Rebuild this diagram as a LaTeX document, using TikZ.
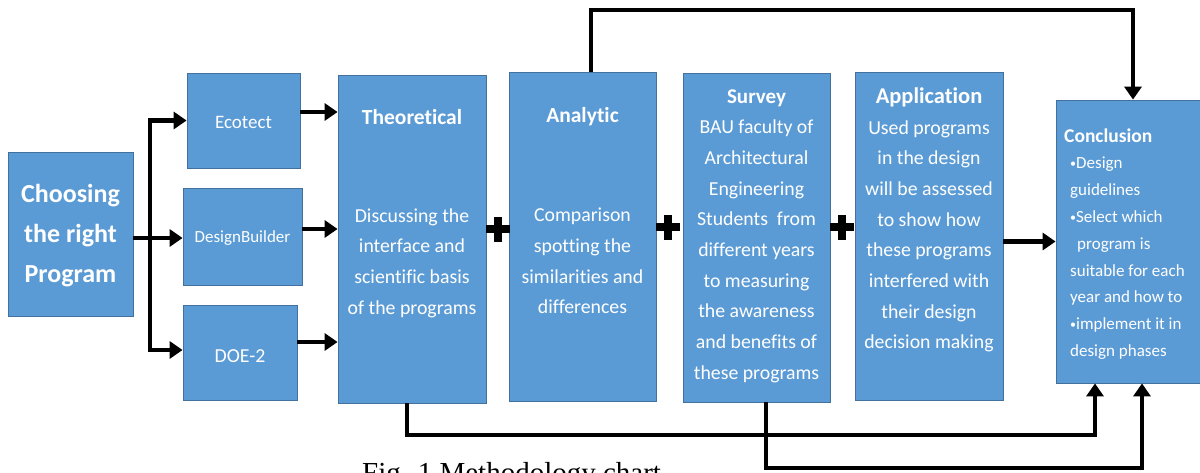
\documentclass[tikz,border=0pt]{standalone}
\usepackage{fontspec}
\setmainfont{Carlito}[Ligatures={NoCommon}]
\newfontfamily\capfont{Liberation Serif}
\usetikzlibrary{arrows.meta}
\definecolor{boxfill}{HTML}{5B9BD5}
\definecolor{boxline}{HTML}{41719C}
\newcommand{\bul}{{\fontsize{12}{12}\selectfont\raisebox{1.5pt}{•}}}
\begin{document}
\begin{tikzpicture}[x=1pt,y=-1pt,
  box/.style={draw=boxline,fill=boxfill,line width=0.8pt,inner sep=0pt},
  txt/.style={text=white,align=center,inner sep=0pt},
  body/.style={txt,font=\fontsize{19.8}{30.7}\selectfont},
  ttl/.style={txt,font=\bfseries\fontsize{21.5}{26}\selectfont},
  conn/.style={line width=4.8pt,black},
  arr/.style={conn,-{Triangle[length=13pt,width=17pt]}},
  plussign/.pic={\fill (-12,-3.8) rectangle (12,3.8); \fill (-3.8,-12.5) rectangle (3.8,12.5);}
]
\useasboundingbox (0,0) rectangle (1200,472);
\clip (0,0) rectangle (1200,472);

% boxes
\node[box,minimum width=125pt,minimum height=164pt] (choose) at (70.5,234) {};
\node[box,minimum width=113pt,minimum height=95pt] (eco) at (243.5,120.5) {};
\node[box,minimum width=119pt,minimum height=97pt] (db) at (242.5,236.5) {};
\node[box,minimum width=114pt,minimum height=95pt] (doe) at (240,352.5) {};
\node[box,minimum width=148pt,minimum height=328pt] (theo) at (412,239) {};
\node[box,minimum width=147pt,minimum height=329pt] (ana) at (582.5,236.5) {};
\node[box,minimum width=147pt,minimum height=329pt] (sur) at (756.5,237.5) {};
\node[box,minimum width=148pt,minimum height=328pt] (app) at (929,236) {};
\node[box,minimum width=154pt,minimum height=283pt] (conc) at (1133,241.5) {};

% texts
\node[txt,font=\bfseries\fontsize{26}{40}\selectfont] (chooseT) at (70.5,236) {Choosing\\the right\\Program};
\node[txt,font=\fontsize{19}{22}\selectfont] (ecoT) at (243.5,122) {Ecotect};
\node[txt,font=\fontsize{17}{20}\selectfont] (dbT) at (242.5,238) {DesignBuilder};
\node[txt,font=\fontsize{19.8}{22}\selectfont] (doeT) at (240,356) {DOE-2};
\node[ttl] (theoT) at (412,117) {Theoretical};
\node[body] (theoB) at (412,263) {Discussing the\\interface and\\scientific basis\\of the programs};
\node[ttl] (anaT) at (582.5,117) {Analytic};
\node[body] (anaB) at (582.5,261) {Comparison\\spotting the\\similarities and\\differences};
\node[body] (surT) at (756.5,236) {{\bfseries\fontsize{21}{30.7}\selectfont Survey}\\BAU faculty of\\Architectural\\Engineering\\Students~ from\\different years\\to measuring\\the awareness\\and benefits of\\these programs};
\node[body] (appT) at (929,220) {{\bfseries\fontsize{22.5}{30.7}\selectfont Application}\\Used programs\\in the design\\will be assessed\\to show how\\these programs\\interfered with\\their design\\decision making};
\node[txt,align=left,anchor=west,font=\fontsize{17}{26.8}\selectfont] (concT) at (1064,244) {{\bfseries\fontsize{19.5}{26.8}\selectfont Conclusion}\\
\hspace*{6pt}\bul Design\\\hspace*{6pt}guidelines\\\hspace*{6pt}\bul Select which\\\hspace*{13pt}program is\\\hspace*{6pt}suitable for each\\\hspace*{6pt}year and how to\\\hspace*{6pt}\bul implement it in\\\hspace*{6pt}design phases};

% plus signs
\pic (p1) at (498,229) {plussign};
\pic (p2) at (668,227) {plussign};
\pic (p3) at (842,227) {plussign};

% connectors
\coordinate (tx) at (150,0);
\coordinate (ytop) at (0,10);
\coordinate (yb1) at (0,435);
\coordinate (yb2) at (0,468);
\draw[conn] (choose.east |- 0,238) -- (tx |- 0,238);
\draw[arr] (tx |- 0,238) |- (eco.west);
\draw[arr] (tx |- 0,238) -- (db.west |- 0,238);
\draw[arr] (tx |- 0,238) |- (doe.west |- 0,350);
\draw[arr] (eco.east |- 0,112) -- (theo.west |- 0,112);
\draw[arr] (db.east |- 0,229) -- (theo.west |- 0,229);
\draw[arr] (doe.east |- 0,342) -- (theo.west |- 0,342);
\draw[arr] (app.east |- conc.west) -- (conc.west);
\draw[arr] ([xshift=8.5pt]ana.north) -- ([xshift=8.5pt]ana.north |- ytop) -| (conc.north);
\draw[arr] ([xshift=-5pt]theo.south) -- ([xshift=-5pt]theo.south |- yb1) -| ([xshift=-38pt]conc.south);
\draw[arr] ([xshift=9.5pt]sur.south) -- ([xshift=9.5pt]sur.south |- yb2) -| ([xshift=9pt]conc.south);

% caption
\node[anchor=base west,inner sep=0pt,font=\capfont\fontsize{29}{34}\selectfont] (cap) at (362,482) {Fig. 1 Methodology chart};
\end{tikzpicture}
\end{document}
